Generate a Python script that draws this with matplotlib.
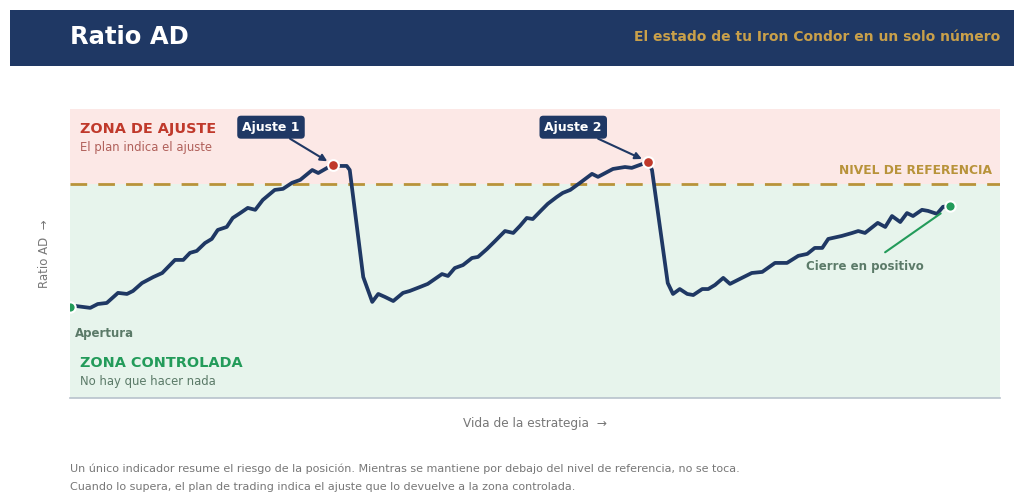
import matplotlib
matplotlib.use("Agg")
import matplotlib.pyplot as plt
from matplotlib.patches import Rectangle

# ---------------- data ----------------
days = [0, 0.7, 2.7, 3.7, 4.9, 6.4, 7.6, 8.4, 9.6, 11.1, 12.3, 14.0, 15.1, 16.0, 16.9,
        18.0, 18.9, 19.7, 20.9, 21.7, 22.7, 23.7, 24.7, 25.7, 27.3, 28.4, 29.6, 30.7,
        32.3, 33.1, 34.3, 35.1, 36.0, 36.9, 37.3, 39.1, 40.3, 41.1, 42.0, 43.1, 44.4,
        45.3, 46.7, 47.7, 49.6, 50.4, 51.3, 52.4, 53.6, 54.4, 55.6, 56.7, 58.0, 59.1,
        60.0, 60.9, 61.7, 62.9, 63.7, 64.9, 65.7, 66.7, 68.0, 69.6, 70.4, 72.4, 74.0,
        74.9, 76.0, 77.1, 77.6, 79.7, 80.4, 81.3, 82.3, 83.1, 84.3, 85.1, 86.0, 87.1,
        88.0, 89.3, 90.9, 92.3, 94.0, 95.6, 97.1, 98.3, 99.3, 100.3, 101.1, 102.9,
        104.3, 105.1, 106.0, 107.7, 108.7, 109.6, 110.7, 111.6, 112.4, 113.6, 114.4,
        115.6, 116.4, 117.3]
ratio = [0.425, 0.430, 0.421, 0.439, 0.444, 0.491, 0.486, 0.500, 0.537, 0.565, 0.584,
         0.645, 0.645, 0.678, 0.687, 0.724, 0.743, 0.785, 0.799, 0.841, 0.864, 0.888,
         0.879, 0.925, 0.972, 0.977, 1.005, 1.019, 1.065, 1.051, 1.075, 1.089, 1.084,
         1.084, 1.065, 0.565, 0.449, 0.486, 0.472, 0.453, 0.491, 0.500, 0.519, 0.533,
         0.579, 0.570, 0.607, 0.621, 0.654, 0.659, 0.696, 0.734, 0.780, 0.771, 0.804,
         0.841, 0.836, 0.879, 0.907, 0.939, 0.958, 0.972, 1.005, 1.047, 1.033, 1.070,
         1.079, 1.075, 1.089, 1.103, 1.065, 0.537, 0.486, 0.509, 0.486, 0.481, 0.509,
         0.509, 0.528, 0.561, 0.533, 0.556, 0.584, 0.589, 0.631, 0.631, 0.664, 0.673,
         0.701, 0.701, 0.743, 0.757, 0.771, 0.780, 0.771, 0.818, 0.799, 0.850, 0.822,
         0.864, 0.850, 0.879, 0.874, 0.860, 0.893, 0.897]
reference_level = 1.0
adjust_idx = [31, 69]          # indices of "Ajuste 1" and "Ajuste 2"
adjust_labels = ["Ajuste 1", "Ajuste 2"]
label_x = [26.8, 67.1]         # label box centres (days)

# ---------------- colours ----------------
NAVY = "#1f3864"
GOLD = "#b8933a"
RED = "#c0392b"
GREEN = "#239b5a"
PINK_BG = "#fce8e6"
GREEN_BG = "#e7f4ec"
GRAY = "#777777"
MUTED_GREEN = "#5b7a68"

fig = plt.figure(figsize=(10.24, 5.03), dpi=100)
fig.patch.set_facecolor("white")

# header banner
fig.patches.append(Rectangle((10 / 1024, 1 - 66 / 503), 1004 / 1024, 56 / 503,
                             transform=fig.transFigure, facecolor=NAVY,
                             edgecolor="none", zorder=0))
fig.text(70 / 1024, 1 - 37 / 503, "Ratio AD", color="white", fontsize=17.5,
         fontweight="bold", va="center", ha="left")
fig.text(1000 / 1024, 1 - 37 / 503, "El estado de tu Iron Condor en un solo número",
         color="#c9a04a", fontsize=10, fontweight="bold", va="center", ha="right")

ax = fig.add_axes([70 / 1024, 1 - 398 / 503, 930 / 1024, 289 / 503])
xmin, xmax = 0, 124
ymin, ymax = 0, 1.35
ax.set_xlim(xmin, xmax)
ax.set_ylim(ymin, ymax)

ax.axhspan(reference_level, ymax, color=PINK_BG, zorder=0, lw=0)
ax.axhspan(ymin, reference_level, color=GREEN_BG, zorder=0, lw=0)
ax.axhline(reference_level, color=GOLD, lw=2, dashes=(6, 4), zorder=2)

ax.plot(days, ratio, color=NAVY, lw=2.7, zorder=3, solid_joinstyle="round")

# start / end markers
ax.scatter([days[0]], [ratio[0]], s=55, color=GREEN, edgecolor="white", lw=1.5,
           zorder=5, clip_on=True)
ax.scatter([days[-1]], [ratio[-1]], s=55, color=GREEN, edgecolor="white", lw=1.5,
           zorder=5, clip_on=False)

# adjustment markers and labels
for i, lab, lx in zip(adjust_idx, adjust_labels, label_x):
    ax.scatter([days[i]], [ratio[i]], s=60, color=RED, edgecolor="white", lw=1.5,
               zorder=5)
    ax.annotate(lab, xy=(days[i], ratio[i]),
                xytext=(lx, 1.265), textcoords="data",
                ha="center", va="center", color="white", fontsize=9,
                fontweight="bold",
                bbox=dict(boxstyle="round,pad=0.4,rounding_size=0.3",
                          fc=NAVY, ec="none"),
                arrowprops=dict(arrowstyle="-|>", color=NAVY, lw=1.5,
                                shrinkA=0, shrinkB=5, mutation_scale=10),
                zorder=6)

# zone texts
ax.text(1.3, 1.255, "ZONA DE AJUSTE", color=RED, fontsize=10.4, fontweight="bold",
        ha="left", va="center")
ax.text(1.3, 1.17, "El plan indica el ajuste", color="#b0605a", fontsize=8.4,
        ha="left", va="center")
ax.text(122.9, 1.065, "NIVEL DE REFERENCIA", color=GOLD, fontsize=8.8,
        fontweight="bold", ha="right", va="center")
ax.text(0.7, 0.30, "Apertura", color=MUTED_GREEN, fontsize=8.5, fontweight="bold",
        ha="left", va="center")
ax.text(1.3, 0.163, "ZONA CONTROLADA", color=GREEN, fontsize=10.4, fontweight="bold",
        ha="left", va="center")
ax.text(1.3, 0.079, "No hay que hacer nada", color=MUTED_GREEN, fontsize=8.4,
        ha="left", va="center")

ax.annotate("Cierre en positivo", xy=(days[-1] - 0.6, ratio[-1] - 0.02),
            xytext=(106.0, 0.615), ha="center", va="center",
            color=MUTED_GREEN, fontsize=8.5, fontweight="bold",
            arrowprops=dict(arrowstyle="-", color=GREEN, lw=1.5, shrinkA=6,
                            shrinkB=4),
            zorder=6)

# axes styling
for s in ["top", "right", "left"]:
    ax.spines[s].set_visible(False)
ax.spines["bottom"].set_color("#b8c2cc")
ax.spines["bottom"].set_linewidth(1.2)
ax.set_xticks([])
ax.set_yticks([])
ax.set_ylabel("Ratio AD  →", color=GRAY, fontsize=8.5, labelpad=14)
ax.set_xlabel("Vida de la estrategia  →", color=GRAY, fontsize=8.7, labelpad=14)

fig.text(70 / 1024, 1 - 469 / 503,
         "Un único indicador resume el riesgo de la posición. Mientras se mantiene por "
         "debajo del nivel de referencia, no se toca.",
         color=GRAY, fontsize=8.0, ha="left", va="center")
fig.text(70 / 1024, 1 - 487 / 503,
         "Cuando lo supera, el plan de trading indica el ajuste que lo devuelve a la "
         "zona controlada.",
         color=GRAY, fontsize=8.0, ha="left", va="center")

fig.savefig("out.png", dpi=100, facecolor="white")
